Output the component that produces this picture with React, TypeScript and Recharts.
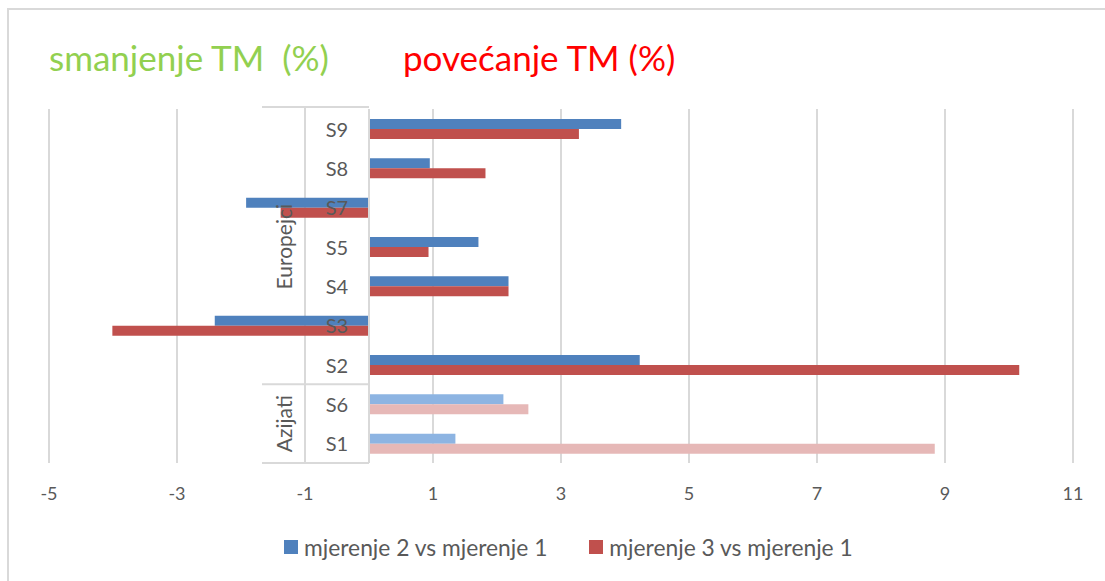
import { Bar, BarChart, CartesianGrid, Cell, Customized, Legend, ReferenceLine, XAxis, YAxis } from "recharts";

const categories = ["S9", "S8", "S7", "S5", "S4", "S3", "S2", "S6", "S1"];
const groupOf = ["Europejci", "Europejci", "Europejci", "Europejci", "Europejci", "Europejci", "Europejci", "Azijati", "Azijati"];
const mjerenje2 = [3.94, 0.95, -1.92, 1.71, 2.18, -2.41, 4.23, 2.1, 1.35];
const mjerenje3 = [3.28, 1.82, -1.38, 0.93, 2.18, -4.01, 10.16, 2.49, 8.84];
const xTicks = [-5, -3, -1, 1, 3, 5, 7, 9, 11];
const seriesNames = ["mjerenje 2 vs mjerenje 1", "mjerenje 3 vs mjerenje 1"];

const BLUE = "#4f81bd";
const RED = "#c0504d";
const BLUE_LIGHT = "#8db4e2";
const RED_LIGHT = "#e6b8b7";
const GRID = "#d9d9d9";
const TEXT = "#595959";
const FONT = "Lato, 'Open Sans', sans-serif";

const W = 1105;
const H = 581;
const Y_AXIS_W = 1;
const MARGIN = { top: 109, right: 32, bottom: 78, left: 48 };
const X_AXIS_H = 40;
const PLOT_LEFT = MARGIN.left + Y_AXIS_W;
const PLOT_W = W - PLOT_LEFT - MARGIN.right;
const PLOT_TOP = MARGIN.top;
const PLOT_BOTTOM = H - MARGIN.bottom - X_AXIS_H;
const BAND = (PLOT_BOTTOM - PLOT_TOP) / categories.length;
const X_SPAN = xTicks[xTicks.length - 1] - xTicks[0];
const ZERO_X = PLOT_LEFT + ((0 - xTicks[0]) / X_SPAN) * PLOT_W;
const TABLE_LEFT = 262;
const TABLE_MID = ZERO_X - PLOT_W / X_SPAN;

const data = categories.map((name, i) => ({
  name,
  group: groupOf[i],
  m2: mjerenje2[i],
  m3: mjerenje3[i],
}));

// group spans: first index + size
const groups: { name: string; start: number; end: number }[] = [];
groupOf.forEach((g, i) => {
  const last = groups[groups.length - 1];
  if (last && last.name === g) last.end = i + 1;
  else groups.push({ name: g, start: i, end: i + 1 });
});

// category label + (on the first row of a group) the rotated group label
const CategoryTick = (props: any) => {
  const { y, payload, index } = props;
  const g = groups.find((gr) => gr.start === index);
  const cx = (TABLE_LEFT + TABLE_MID) / 2;
  const cy = g ? y - BAND / 2 + ((g.end - g.start) * BAND) / 2 : 0;
  return (
    <g>
      <text
        x={(TABLE_MID + ZERO_X) / 2}
        y={y}
        textAnchor="middle"
        dominantBaseline="central"
        fill={TEXT}
        fontSize={20}
        fontFamily={FONT}
      >
        {payload.value}
      </text>
      {g && (
        <text
          x={cx}
          y={cy}
          transform={`rotate(-90 ${cx} ${cy})`}
          textAnchor="middle"
          dominantBaseline="central"
          fill={TEXT}
          fontSize={21}
          fontFamily={FONT}
        >
          {g.name}
        </text>
      )}
    </g>
  );
};

// lines of the two-level category table (drawn under the bars)
const GroupTable = () => {
  const lineProps = { stroke: GRID, strokeWidth: 2 };
  return (
    <g>
      <line x1={TABLE_LEFT} x2={ZERO_X} y1={PLOT_TOP - 2} y2={PLOT_TOP - 2} {...lineProps} />
      <line x1={TABLE_MID} x2={TABLE_MID} y1={PLOT_TOP - 2} y2={PLOT_BOTTOM} {...lineProps} />
      {groups.map((g) => {
        const y1 = PLOT_TOP + g.end * BAND;
        return <line key={g.name} x1={TABLE_LEFT} x2={ZERO_X} y1={y1} y2={y1} {...lineProps} />;
      })}
    </g>
  );
};

const LegendContent = () => (
  <div style={{ display: "flex", paddingLeft: 284, gap: 42, fontFamily: FONT, fontSize: 22.8, color: TEXT }}>
    {seriesNames.map((s, i) => (
      <div key={s} style={{ display: "flex", alignItems: "center" }}>
        <span style={{ width: 14, height: 14, background: i === 0 ? BLUE : RED, marginRight: 6, display: "inline-block" }} />
        <span>{s}</span>
      </div>
    ))}
  </div>
);

export default function App() {
  return (
    <div style={{ position: "absolute", left: 0, top: 0, width: W, height: H, background: "#fff", overflow: "hidden" }}>
      <div
        style={{
          position: "absolute",
          left: 7,
          top: 8,
          width: W,
          height: H,
          borderLeft: `2px solid ${GRID}`,
          borderTop: `2px solid ${GRID}`,
        }}
      />
      <div style={{ position: "absolute", left: 49, top: 36, fontFamily: FONT, fontSize: 35, color: "#92d050", whiteSpace: "pre" }}>
        smanjenje TM  (%)
      </div>
      <div style={{ position: "absolute", left: 403, top: 36, fontFamily: FONT, fontSize: 35, color: "#ff0000", whiteSpace: "pre" }}>
        povećanje TM (%)
      </div>
      <BarChart
        width={W}
        height={H}
        data={data}
        layout="vertical"
        margin={MARGIN}
        barSize={10}
        barGap={0}
        style={{ position: "absolute", left: 0, top: 0 }}
      >
        <CartesianGrid horizontal={false} stroke={GRID} strokeWidth={2} />
        <Customized component={<GroupTable />} />
        <XAxis
          type="number"
          domain={[xTicks[0], xTicks[xTicks.length - 1]]}
          ticks={xTicks}
          height={X_AXIS_H}
          axisLine={false}
          tickLine={false}
          tickMargin={18}
          tick={{ fill: TEXT, fontSize: 18, fontFamily: FONT }}
        />
        <Bar dataKey="m2" name={seriesNames[0]} fill={BLUE} isAnimationActive={false}>
          {data.map((d) => (
            <Cell key={`m2-${d.name}`} fill={d.group === "Azijati" ? BLUE_LIGHT : BLUE} />
          ))}
        </Bar>
        <Bar dataKey="m3" name={seriesNames[1]} fill={RED} isAnimationActive={false}>
          {data.map((d) => (
            <Cell key={`m3-${d.name}`} fill={d.group === "Azijati" ? RED_LIGHT : RED} />
          ))}
        </Bar>
        <ReferenceLine x={0} stroke={GRID} strokeWidth={2} />
        <YAxis
          type="category"
          dataKey="name"
          width={Y_AXIS_W}
          axisLine={false}
          tickLine={false}
          interval={0}
          tick={(props: any) => <CategoryTick {...props} />}
        />
        <Legend
          verticalAlign="middle"
          content={<LegendContent />}
          wrapperStyle={{ top: 533, left: 0, width: W }}
        />
      </BarChart>
    </div>
  );
}
